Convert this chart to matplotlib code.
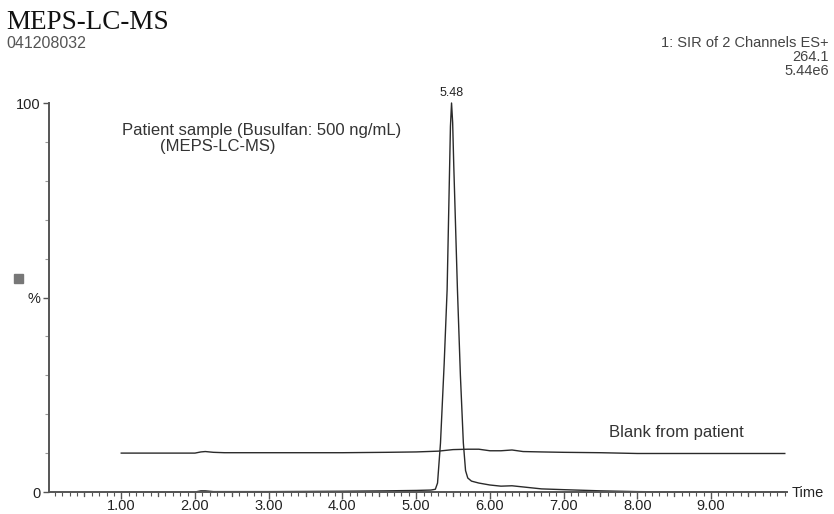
import matplotlib
matplotlib.use('Agg')
import matplotlib.pyplot as plt
import numpy
from matplotlib.ticker import MultipleLocator, FixedLocator

plt.rcParams['font.family'] = ['Liberation Sans', 'DejaVu Sans']

# patient sample trace (time in min, % of 5.44e6)
pat_t = [1.0, 2.0, 2.08, 2.14, 2.25, 3.0, 4.0, 4.6, 5.0, 5.2, 5.26, 5.29, 5.33, 5.38, 5.42, 5.45,
         5.465, 5.48, 5.495, 5.51, 5.56, 5.60, 5.64, 5.67, 5.70, 5.75, 5.85, 6.0, 6.15, 6.3, 6.45,
         6.7, 7.0, 7.5, 8.0, 8.5, 9.0, 10.0]
pat_v = [0.0, 0.0, 0.3, 0.3, 0.1, 0.1, 0.2, 0.3, 0.4, 0.5, 0.7, 2.3, 12.6, 33.0, 52.0, 80.0,
         94.0, 100.0, 95.0, 84.0, 52.0, 30.0, 12.6, 5.5, 3.6, 2.8, 2.3, 1.8, 1.5, 1.6, 1.3,
         0.8, 0.6, 0.3, 0.1, 0.0, 0.0, 0.0]

# blank from patient
blank_t = [1.0, 2.0, 2.08, 2.14, 2.25, 2.4, 3.0, 4.0, 4.6, 5.0, 5.3, 5.5, 5.7, 5.85, 6.0, 6.15,
           6.3, 6.45, 6.7, 7.0, 7.5, 8.0, 8.5, 9.0, 9.5, 10.0]
blank_v = [10.0, 10.0, 10.3, 10.4, 10.2, 10.1, 10.1, 10.1, 10.2, 10.3, 10.5, 10.9, 11.0, 11.0,
           10.6, 10.6, 10.8, 10.4, 10.3, 10.2, 10.1, 9.9, 9.9, 9.9, 9.9, 9.9]

x_ticks = [1, 2, 3, 4, 5, 6, 7, 8, 9]
x_labels = ['1.00', '2.00', '3.00', '4.00', '5.00', '6.00', '7.00', '8.00', '9.00']
peak_rt = 5.48

fig = plt.figure(figsize=(8.34, 5.14), dpi=100)
ax = fig.add_axes([49/834, 22/514, 738/834, 389/514])

line_col = '#2a2a2a'
ax.plot(blank_t, blank_v, color=line_col, lw=1.0)
ax.plot(pat_t, pat_v, color=line_col, lw=1.0, clip_on=False)

ax.set_xlim(0.02, 10.03)
ax.set_ylim(0, 100)

for s in ['top', 'right']:
    ax.spines[s].set_visible(False)
for s in ['left', 'bottom']:
    ax.spines[s].set_color('#555555')
    ax.spines[s].set_linewidth(1.4)

ax.set_xticks(x_ticks)
ax.set_xticklabels(x_labels, fontsize=10.5, color='#222222')
ax.xaxis.set_minor_locator(MultipleLocator(0.1))
ax.tick_params(axis='x', which='major', length=5, width=1, color='#555555', pad=0)
ax.tick_params(axis='x', which='minor', length=3, width=0.8, color='#555555')

ax.set_yticks([0, 50, 100])
ax.set_yticklabels(['0', '%', '100'], fontsize=10.5, color='#222222')
ax.yaxis.set_minor_locator(FixedLocator([10, 20, 30, 40, 60, 70, 80, 90]))
ax.tick_params(axis='y', which='major', length=4, width=1, color='#555555', pad=2)
ax.tick_params(axis='y', which='minor', length=3, width=0.8, color='#999999')

# half-ticks at .5 minutes
for t in numpy.arange(0.5, 10.0, 1.0):
    ax.plot([t, t], [0, -1.1], color='#555555', lw=0.9, clip_on=False)

ax.text(peak_rt, 101, '5.48', ha='center', va='bottom', fontsize=9, color='#222222')
ax.text((122 - 49)/738, (492 - 130)/389, 'Patient sample (Busulfan: 500 ng/mL)', transform=ax.transAxes,
        ha='left', va='center', fontsize=12, color='#333333')
ax.text((160 - 49)/738, (492 - 146)/389, '(MEPS-LC-MS)', transform=ax.transAxes,
        ha='left', va='center', fontsize=12, color='#333333')
ax.text((609 - 49)/738, (492 - 433)/389, 'Blank from patient', transform=ax.transAxes, ha='left',
        va='center', fontsize=12, color='#333333')

fig.text(792/834, 1 - 493/514, 'Time', ha='left', va='center', fontsize=10.5, color='#222222')
fig.text(6/834, 1 - 29/514, 'MEPS-LC-MS', ha='left', va='baseline', fontsize=19.5,
         family='Liberation Serif', color='#111111')
fig.text(6/834, 1 - 48/514, '041208032', ha='left', va='baseline', fontsize=11.5, color='#555555')
fig.text(829/834, 1 - 47/514, '1: SIR of 2 Channels ES+', ha='right', va='baseline', fontsize=10.5, color='#444444')
fig.text(829/834, 1 - 61/514, '264.1', ha='right', va='baseline', fontsize=10.5, color='#444444')
fig.text(829/834, 1 - 75/514, '5.44e6', ha='right', va='baseline', fontsize=10.5, color='#444444')

# little gray square on the y axis side
fig.patches.append(plt.Rectangle((14/834, 1 - 283/514), 9/834, 9/514, transform=fig.transFigure,
                                 color='#777777'))

plt.savefig('out.png', dpi=100)
